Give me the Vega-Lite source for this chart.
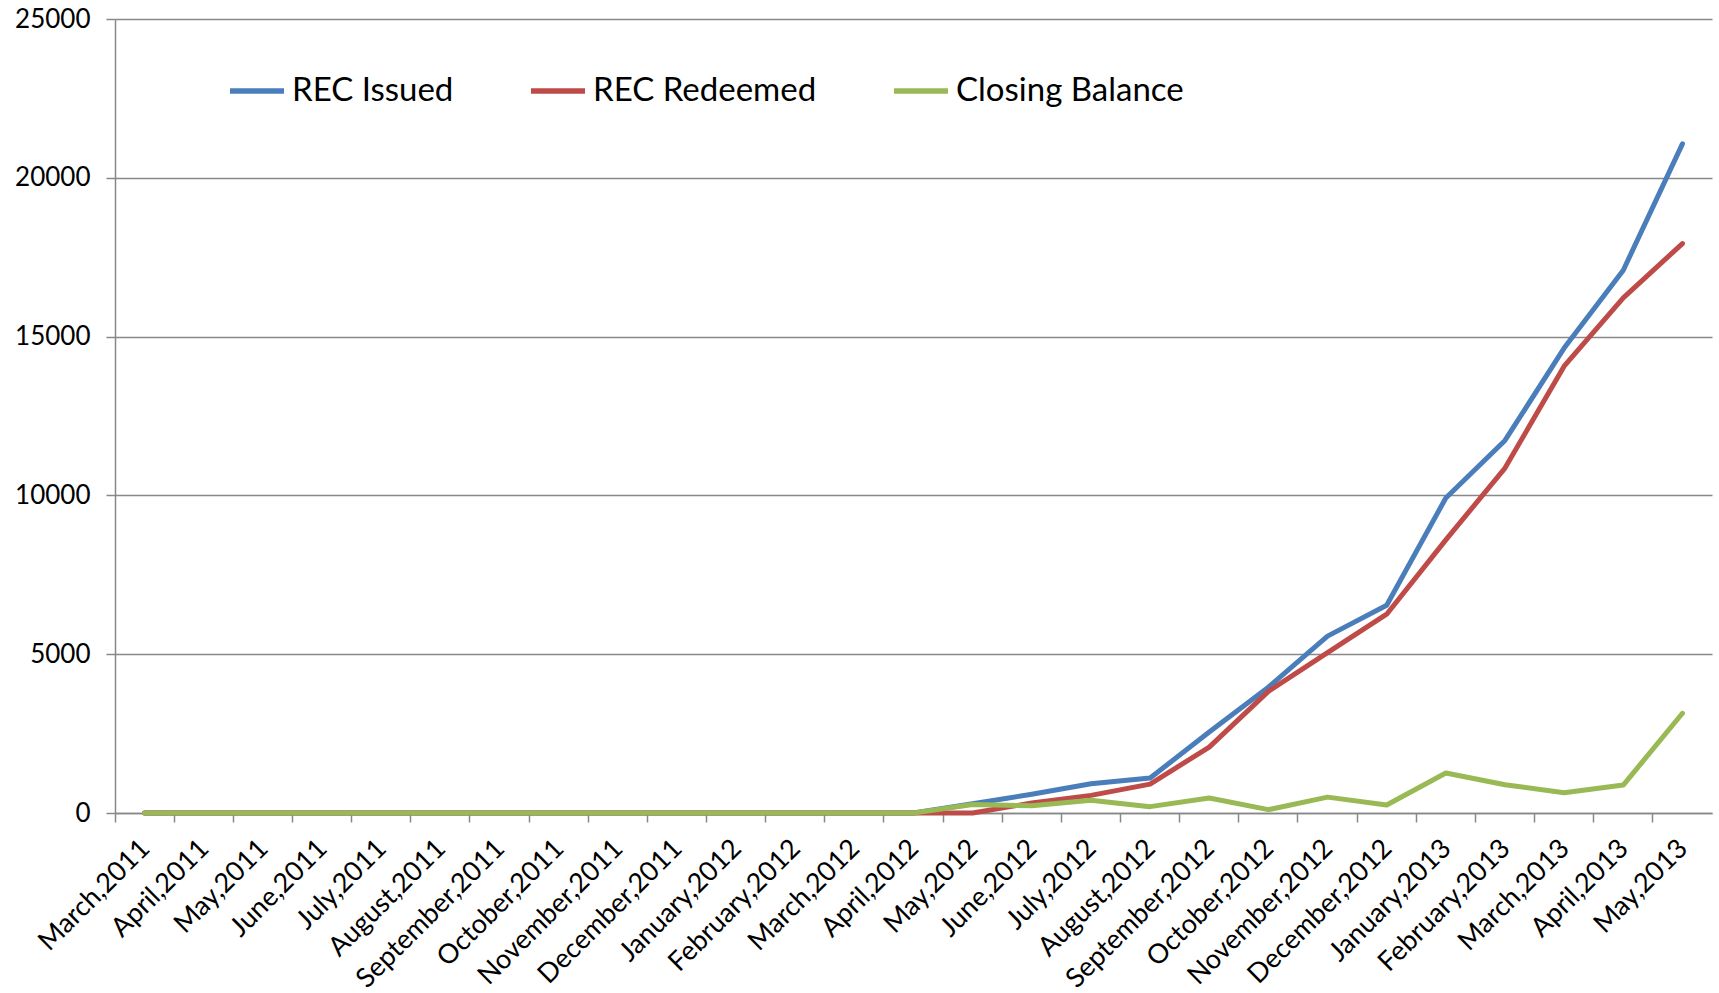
{
  "$schema": "https://vega.github.io/schema/vega-lite/v6.json",
  "width": 1597,
  "height": 794,
  "autosize": "none",
  "padding": {"left": 115, "top": 19, "right": 7, "bottom": 180},
  "background": "white",
  "datasets": {
    "rec": [
      {"month": "March,2011", "series": "REC Issued", "value": 0},
      {"month": "April,2011", "series": "REC Issued", "value": 0},
      {"month": "May,2011", "series": "REC Issued", "value": 0},
      {"month": "June,2011", "series": "REC Issued", "value": 0},
      {"month": "July,2011", "series": "REC Issued", "value": 0},
      {"month": "August,2011", "series": "REC Issued", "value": 0},
      {"month": "September,2011", "series": "REC Issued", "value": 0},
      {"month": "October,2011", "series": "REC Issued", "value": 0},
      {"month": "November,2011", "series": "REC Issued", "value": 0},
      {"month": "December,2011", "series": "REC Issued", "value": 0},
      {"month": "January,2012", "series": "REC Issued", "value": 0},
      {"month": "February,2012", "series": "REC Issued", "value": 0},
      {"month": "March,2012", "series": "REC Issued", "value": 0},
      {"month": "April,2012", "series": "REC Issued", "value": 0},
      {"month": "May,2012", "series": "REC Issued", "value": 290},
      {"month": "June,2012", "series": "REC Issued", "value": 590},
      {"month": "July,2012", "series": "REC Issued", "value": 920},
      {"month": "August,2012", "series": "REC Issued", "value": 1100},
      {"month": "September,2012", "series": "REC Issued", "value": 2550},
      {"month": "October,2012", "series": "REC Issued", "value": 3960},
      {"month": "November,2012", "series": "REC Issued", "value": 5570},
      {"month": "December,2012", "series": "REC Issued", "value": 6540},
      {"month": "January,2013", "series": "REC Issued", "value": 9920},
      {"month": "February,2013", "series": "REC Issued", "value": 11730},
      {"month": "March,2013", "series": "REC Issued", "value": 14640},
      {"month": "April,2013", "series": "REC Issued", "value": 17090},
      {"month": "May,2013", "series": "REC Issued", "value": 21070},

      {"month": "March,2011", "series": "REC Redeemed", "value": 0},
      {"month": "April,2011", "series": "REC Redeemed", "value": 0},
      {"month": "May,2011", "series": "REC Redeemed", "value": 0},
      {"month": "June,2011", "series": "REC Redeemed", "value": 0},
      {"month": "July,2011", "series": "REC Redeemed", "value": 0},
      {"month": "August,2011", "series": "REC Redeemed", "value": 0},
      {"month": "September,2011", "series": "REC Redeemed", "value": 0},
      {"month": "October,2011", "series": "REC Redeemed", "value": 0},
      {"month": "November,2011", "series": "REC Redeemed", "value": 0},
      {"month": "December,2011", "series": "REC Redeemed", "value": 0},
      {"month": "January,2012", "series": "REC Redeemed", "value": 0},
      {"month": "February,2012", "series": "REC Redeemed", "value": 0},
      {"month": "March,2012", "series": "REC Redeemed", "value": 0},
      {"month": "April,2012", "series": "REC Redeemed", "value": 0},
      {"month": "May,2012", "series": "REC Redeemed", "value": 0},
      {"month": "June,2012", "series": "REC Redeemed", "value": 315},
      {"month": "July,2012", "series": "REC Redeemed", "value": 555},
      {"month": "August,2012", "series": "REC Redeemed", "value": 910},
      {"month": "September,2012", "series": "REC Redeemed", "value": 2075},
      {"month": "October,2012", "series": "REC Redeemed", "value": 3830},
      {"month": "November,2012", "series": "REC Redeemed", "value": 5050},
      {"month": "December,2012", "series": "REC Redeemed", "value": 6260},
      {"month": "January,2013", "series": "REC Redeemed", "value": 8600},
      {"month": "February,2013", "series": "REC Redeemed", "value": 10860},
      {"month": "March,2013", "series": "REC Redeemed", "value": 14070},
      {"month": "April,2013", "series": "REC Redeemed", "value": 16220},
      {"month": "May,2013", "series": "REC Redeemed", "value": 17930},

      {"month": "March,2011", "series": "Closing Balance", "value": 0},
      {"month": "April,2011", "series": "Closing Balance", "value": 0},
      {"month": "May,2011", "series": "Closing Balance", "value": 0},
      {"month": "June,2011", "series": "Closing Balance", "value": 0},
      {"month": "July,2011", "series": "Closing Balance", "value": 0},
      {"month": "August,2011", "series": "Closing Balance", "value": 0},
      {"month": "September,2011", "series": "Closing Balance", "value": 0},
      {"month": "October,2011", "series": "Closing Balance", "value": 0},
      {"month": "November,2011", "series": "Closing Balance", "value": 0},
      {"month": "December,2011", "series": "Closing Balance", "value": 0},
      {"month": "January,2012", "series": "Closing Balance", "value": 0},
      {"month": "February,2012", "series": "Closing Balance", "value": 0},
      {"month": "March,2012", "series": "Closing Balance", "value": 0},
      {"month": "April,2012", "series": "Closing Balance", "value": 0},
      {"month": "May,2012", "series": "Closing Balance", "value": 265},
      {"month": "June,2012", "series": "Closing Balance", "value": 230},
      {"month": "July,2012", "series": "Closing Balance", "value": 400},
      {"month": "August,2012", "series": "Closing Balance", "value": 200},
      {"month": "September,2012", "series": "Closing Balance", "value": 470},
      {"month": "October,2012", "series": "Closing Balance", "value": 105},
      {"month": "November,2012", "series": "Closing Balance", "value": 500},
      {"month": "December,2012", "series": "Closing Balance", "value": 250},
      {"month": "January,2013", "series": "Closing Balance", "value": 1260},
      {"month": "February,2013", "series": "Closing Balance", "value": 890},
      {"month": "March,2013", "series": "Closing Balance", "value": 640},
      {"month": "April,2013", "series": "Closing Balance", "value": 880},
      {"month": "May,2013", "series": "Closing Balance", "value": 3140}
    ]
  },
  "data": {"name": "rec"},
  "config": {
    "view": {"stroke": null},
    "font": "Lato",
    "axis": {
      "labelFont": "Lato",
      "labelColor": "#000000",
      "domainColor": "#888888",
      "domainWidth": 1.5,
      "tickColor": "#888888",
      "tickWidth": 1.5,
      "gridColor": "#888888",
      "gridWidth": 1.4,
      "title": null
    }
  },
  "encoding": {
    "x": {
      "field": "month",
      "type": "nominal",
      "sort": null,
      "bandPosition": 0.5,
      "scale": {
        "type": "band",
        "paddingInner": 0,
        "paddingOuter": 0,
        "domain": ["March,2011", "April,2011", "May,2011", "June,2011", "July,2011", "August,2011", "September,2011", "October,2011", "November,2011", "December,2011", "January,2012", "February,2012", "March,2012", "April,2012", "May,2012", "June,2012", "July,2012", "August,2012", "September,2012", "October,2012", "November,2012", "December,2012", "January,2013", "February,2013", "March,2013", "April,2013", "May,2013"]
      }
    },
    "y": {
      "field": "value",
      "type": "quantitative",
      "scale": {"domain": [0, 25000], "nice": false},
      "axis": {
        "values": [0, 5000, 10000, 15000, 20000, 25000],
        "format": "d",
        "labelFontSize": 26,
        "labelPadding": 16,
        "tickSize": 9,
        "grid": true,
        "domain": true
      }
    },
    "color": {
      "field": "series",
      "type": "nominal",
      "scale": {
        "domain": ["REC Issued", "REC Redeemed", "Closing Balance"],
        "range": ["#4A7EBB", "#BE4B48", "#98B954"]
      },
      "legend": {
        "title": null,
        "orient": "none",
        "direction": "horizontal",
        "legendX": 112,
        "legendY": 42,
        "padding": 0,
        "symbolType": "stroke",
        "symbolSize": 2916,
        "symbolStrokeWidth": 5.5,
        "labelFont": "Lato",
        "labelFontSize": 33,
        "labelColor": "#000000",
        "labelOffset": 5,
        "columnPadding": 66,
        "labelLimit": 400
      }
    }
  },
  "layer": [
    {
      "transform": [{"filter": "datum.series === 'REC Issued'"}],
      "mark": {"type": "line", "strokeWidth": 5, "strokeCap": "round", "strokeJoin": "round"},
      "encoding": {
        "x": {
          "field": "month",
          "type": "nominal",
          "sort": null,
          "bandPosition": 0.5,
          "axis": {
            "orient": "bottom",
            "bandPosition": 0,
            "labels": false,
            "ticks": true,
            "tickSize": 9,
            "domain": true,
            "grid": false
          }
        }
      }
    },
    {
      "transform": [{"filter": "datum.series === 'REC Redeemed'"}],
      "mark": {"type": "line", "strokeWidth": 5, "strokeCap": "round", "strokeJoin": "round"},
      "encoding": {
        "x": {
          "field": "month",
          "type": "nominal",
          "sort": null,
          "bandPosition": 0.5,
          "axis": {
            "orient": "bottom",
            "bandPosition": 0.5,
            "labels": true,
            "ticks": false,
            "domain": false,
            "grid": false,
            "labelAngle": -45,
            "labelAlign": "right",
            "labelBaseline": "middle",
            "labelFontSize": 27,
            "labelPadding": 31,
            "labelOffset": 1,
            "labelOverlap": false,
            "labelLimit": 400
          }
        }
      }
    },
    {
      "transform": [{"filter": "datum.series === 'Closing Balance'"}],
      "mark": {"type": "line", "strokeWidth": 5, "strokeCap": "round", "strokeJoin": "round"},
      "encoding": {
        "x": {
          "field": "month",
          "type": "nominal",
          "sort": null,
          "bandPosition": 0.5,
          "axis": null
        }
      }
    }
  ],
  "resolve": {"axis": {"x": "independent"}}
}
